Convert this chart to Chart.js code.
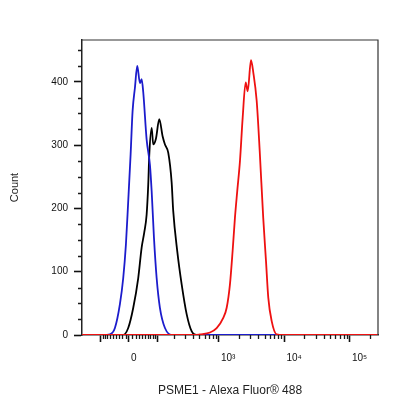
<!DOCTYPE html>
<html>
<head>
<meta charset="utf-8">
<script src="https://cdn.jsdelivr.net/npm/chart.js@4/dist/chart.umd.min.js"></script>
<style>
    html, body { margin: 0; padding: 0; background: #fff; }
    #wrap { width: 416px; height: 416px; }
</style>
</head>
<body>
<div id="wrap"><canvas id="histo" width="416" height="416"></canvas></div>
<script>
// x values are biexponential display units (decades), 0 = zero intensity
const redX = [-0.72, 1.000, 1.084, 1.237, 1.339, 1.440, 1.492, 1.542, 1.583, 1.618, 1.653, 1.695, 1.736, 1.782, 1.813, 1.863, 1.898, 1.950, 1.996, 2.050, 2.092, 2.127, 2.179, 2.255, 2.356, 3.80];
const redCount = [0, 0, 1, 4, 11, 27, 43, 80, 133, 185, 227, 275, 343, 399, 385, 434, 415, 370, 291, 185, 117, 59, 22, 1, 0, 0];

const blueX = [-0.72, -0.397, -0.290, -0.214, -0.137, -0.087, -0.046, -0.011, 0.026, 0.056, 0.092, 0.127, 0.168, 0.194, 0.219, 0.270, 0.321, 0.347, 0.382, 0.423, 0.473, 0.550, 0.652, 3.80];
const blueCount = [0, 0, 1, 11, 49, 90, 143, 211, 286, 354, 391, 425, 398, 404, 383, 309, 268, 227, 154, 90, 43, 11, 0, 0];

const blackX = [-0.72, -0.087, -0.011, 0.066, 0.142, 0.194, 0.234, 0.270, 0.295, 0.310, 0.347, 0.371, 0.412, 0.463, 0.514, 0.550, 0.600, 0.652, 0.676, 0.737, 0.805, 0.881, 0.957, 1.034, 3.80];
const blackCount = [0, 0, 11, 43, 90, 138, 162, 190, 238, 283, 327, 301, 310, 341, 314, 301, 288, 241, 196, 133, 80, 33, 6, 0, 0];

const xMajorValues = [-100, 0, 100, 1000, 10000, 100000];
const xMajorLabels = ['', '0', '', '10³', '10⁴', '10⁵'];
const xMinorValues = [-90, -80, -70, -60, -50, -40, -30, -20, -10, 10, 20, 30, 40, 50, 60, 70, 80, 90,
    200, 300, 400, 500, 600, 700, 800, 900, 2000, 3000, 4000, 5000, 6000, 7000, 8000, 9000,
    20000, 30000, 40000, 50000, 60000, 70000, 80000, 90000, 200000];
const yMajorTicks = [0, 100, 200, 300, 400];
const yMinorTicks = [25, 50, 75, 125, 150, 175, 225, 250, 275, 325, 350, 375, 425, 450];

const X_MIN_VALUE = -212;
const X_MAX_VALUE = 268000;
const Y_MAX = 466;
const BIEX_WIDTH = 84.6;

const FONT = 'Liberation Sans, Arial, sans-serif';

function biex(v) {
    return Math.asinh(v / BIEX_WIDTH) / Math.LN10;
}

function points(xs, ys) {
    return xs.map((x, i) => ({ x: x, y: ys[i] }));
}

// short ticks and the top/right frame lines
const axisExtras = {
    id: 'axisExtras',
    afterDraw(chart) {
        const { ctx, chartArea: a, scales: { x, y } } = chart;
        ctx.save();
        ctx.strokeStyle = '#1a1a1a';
        ctx.lineWidth = 1.3;
        ctx.beginPath();
        xMinorValues.forEach(v => {
            const px = Math.round(x.getPixelForValue(biex(v))) + 0.5;
            ctx.moveTo(px, a.bottom);
            ctx.lineTo(px, a.bottom + 4);
        });
        yMinorTicks.forEach(v => {
            const py = Math.round(y.getPixelForValue(v)) + 0.5;
            ctx.moveTo(a.left, py);
            ctx.lineTo(a.left - 4, py);
        });
        ctx.stroke();

        ctx.strokeStyle = '#333';
        ctx.lineWidth = 1.2;
        ctx.beginPath();
        ctx.moveTo(a.left, a.top);
        ctx.lineTo(a.right, a.top);
        ctx.lineTo(a.right, a.bottom);
        ctx.stroke();
        ctx.restore();
    }
};

const lineStyle = {
    borderWidth: 1.8,
    pointRadius: 0,
    fill: false,
    cubicInterpolationMode: 'monotone'
};

new Chart(document.getElementById('histo'), {
    type: 'line',
    data: {
        datasets: [
            { ...lineStyle, label: 'PSME1', data: points(redX, redCount), borderColor: '#ee1111' },
            { ...lineStyle, label: 'Isotype', data: points(blueX, blueCount), borderColor: '#1c1ccc' },
            { ...lineStyle, label: 'Unstained', data: points(blackX, blackCount), borderColor: '#000000' }
        ]
    },
    options: {
        responsive: false,
        animation: false,
        layout: { padding: { top: 40, right: 38, left: 0, bottom: 0 } },
        plugins: {
            legend: { display: false },
            tooltip: { enabled: false }
        },
        scales: {
            x: {
                type: 'linear',
                min: biex(X_MIN_VALUE),
                max: biex(X_MAX_VALUE),
                afterBuildTicks: scale => {
                    scale.ticks = xMajorValues.map(v => ({ value: biex(v) }));
                },
                afterFit: scale => { scale.height = 81; },
                grid: { drawOnChartArea: false, drawTicks: true, tickLength: 7, tickColor: '#111', tickWidth: 1.6 },
                border: { display: true, color: '#222', width: 1.5 },
                ticks: {
                    autoSkip: false,
                    maxRotation: 0,
                    align: 'start',
                    labelOffset: 2,
                    padding: 10,
                    color: '#111',
                    font: { family: FONT, size: 10 },
                    callback: (value, index) => xMajorLabels[index]
                },
                title: {
                    display: true,
                    text: 'PSME1 - Alexa Fluor® 488',
                    color: '#222',
                    font: { family: FONT, size: 12 },
                    padding: { top: 0, bottom: 18 }
                }
            },
            y: {
                min: 0,
                max: Y_MAX,
                afterBuildTicks: scale => {
                    scale.ticks = yMajorTicks.map(v => ({ value: v }));
                },
                afterFit: scale => { scale.width = 82; },
                grid: { drawOnChartArea: false, drawTicks: true, tickLength: 8, tickColor: '#111', tickWidth: 1.6 },
                border: { display: true, color: '#222', width: 1.5 },
                ticks: {
                    padding: 6,
                    color: '#111',
                    font: { family: FONT, size: 10 },
                    callback: value => value
                },
                title: {
                    display: true,
                    text: 'Count',
                    color: '#222',
                    font: { family: FONT, size: 11 },
                    padding: { top: 8, bottom: 0 }
                }
            }
        }
    },
    plugins: [axisExtras]
});
</script>
</body>
</html>
